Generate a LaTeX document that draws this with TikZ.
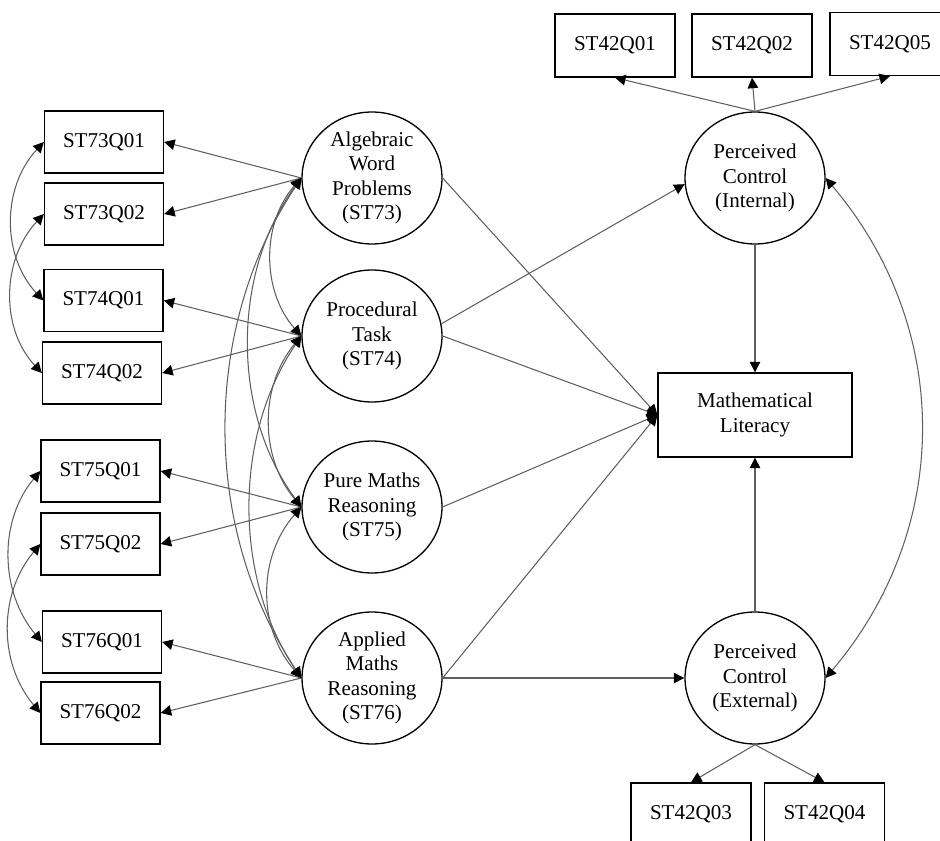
\documentclass[tikz,border=0pt]{standalone}
\usepackage{fontspec}
\setmainfont{Liberation Serif}
\usetikzlibrary{arrows.meta,shapes.geometric}
\definecolor{linegray}{RGB}{95,95,95}
\begin{document}
\begin{tikzpicture}[x=0.02cm,y=-0.02cm,
  txt/.style={font=\fontsize{12}{14}\selectfont, text=black},
  box/.style={draw=black, line width=0.75pt, minimum width=2.38cm, minimum height=1.24cm, inner sep=0pt, txt},
  tbox/.style={box, minimum width=2.4cm, minimum height=1.26cm},
  lat/.style={ellipse, draw=black, line width=0.75pt, minimum width=2.8cm, minimum height=2.64cm, inner sep=0pt},
  lab/.style={align=center, txt, inner sep=0pt},
  tip/.tip={Triangle[length=6pt,width=6pt,color=black]},
  conn/.style={draw=linegray, line width=0.6pt, -tip},
  cov/.style={draw=linegray, line width=0.6pt, tip-tip},
]
\useasboundingbox (0,0) rectangle (940,841);

% indicator boxes (left)
\node[box] (b1) at (104,142) {ST73Q01};
\node[box] (b2) at (104,214) {ST73Q02};
\node[box] (b3) at (103.5,300.5) {ST74Q01};
\node[box] (b4) at (102,373) {ST74Q02};
\node[box] (b5) at (100.5,471) {ST75Q01};
\node[box] (b6) at (100.5,544) {ST75Q02};
\node[box] (b7) at (102,642) {ST76Q01};
\node[box] (b8) at (100.5,713) {ST76Q02};

% exogenous latents
\node[lat] (A) at (372,178) {};
\node[lab] (At) at (A.center) {Algebraic\\Word\\Problems\\(ST73)};
\node[lat] (P) at (372,336) {};
\node[lab] (Pt) at (P.center) {Procedural\\Task\\(ST74)};
\node[lat] (U) at (372,507) {};
\node[lab] (Ut) at (U.center) {Pure Maths\\Reasoning\\(ST75)};
\node[lat] (Ap) at (372,678) {};
\node[lab] (Apt) at (Ap.center) {Applied\\Maths\\Reasoning\\(ST76)};

% perceived control
\node[lat] (I) at (755,178) {};
\node[lab] (It) at (I.center) {Perceived\\Control\\(Internal)};
\node[lat] (E) at (755,678) {};
\node[lab] (Et) at (E.center) {Perceived\\Control\\(External)};

% outcome
\node[box, minimum width=3.88cm, minimum height=1.68cm, align=center] (ML) at (755,415) {Mathematical\\Literacy};

% top and bottom indicator boxes
\node[tbox] (q1) at (615,45.5) {ST42Q01};
\node[tbox] (q2) at (752,45.5) {ST42Q02};
\node[tbox] (q5) at (890,44) {ST42Q05};
\node[tbox] (q3) at (691,814.5) {ST42Q03};
\node[tbox] (q4) at (824.5,814.5) {ST42Q04};

% loadings
\draw[conn] (A.west) -- (b1.east);
\draw[conn] (A.west) -- (b2.east);
\draw[conn] (P.west) -- (b3.east);
\draw[conn] (P.west) -- (b4.east);
\draw[conn] (U.west) -- (b5.east);
\draw[conn] (U.west) -- (b6.east);
\draw[conn] (Ap.west) -- (b7.east);
\draw[conn] (Ap.west) -- (b8.east);

% error covariances between indicators
\draw[cov] (b1.west) .. controls +(-42,45) and +(-42,-45) .. (b3.west);
\draw[cov] (b2.west) .. controls +(-42,45) and +(-42,-45) .. (b4.west);
\draw[cov] (b5.west) .. controls +(-42,50) and +(-42,-50) .. (b7.west);
\draw[cov] (b6.west) .. controls +(-42,50) and +(-42,-50) .. (b8.west);

% covariances among exogenous latents
\draw[cov] (A.west) .. controls +(-40,45) and +(-40,-45) .. (P.west);
\draw[cov] (A.west) .. controls +(-70,95) and +(-70,-95) .. (U.west);
\draw[cov] (A.west) .. controls +(-100,150) and +(-100,-150) .. (Ap.west);
\draw[cov] (P.west) .. controls +(-42,50) and +(-42,-50) .. (U.west);
\draw[cov] (P.west) .. controls +(-68,100) and +(-68,-100) .. (Ap.west);
\draw[cov] (U.west) .. controls +(-44,50) and +(-44,-50) .. (Ap.west);

% structural paths
\draw[conn] (A.east) -- (ML.west);
\draw[conn] (P.east) -- (ML.west);
\draw[conn] (U.east) -- (ML.west);
\draw[conn] (Ap.east) -- (ML.west);
\draw[conn] (P.10) -- (I.185);
\draw[conn] (Ap) -- (E);
\draw[conn] (I) -- (ML);
\draw[conn] (E) -- (ML);

% perceived control loadings
\draw[conn] (I.north) -- (q1.south);
\draw[conn] (I.north) -- (q2.south);
\draw[conn] (I.north) -- (q5.south);
\draw[conn] (E.south) -- (q3.north);
\draw[conn] (E.south) -- (q4.north);

% covariance internal-external
\draw[cov] (I.east) .. controls +(127,150) and +(127,-150) .. (E.east);
\end{tikzpicture}
\end{document}
